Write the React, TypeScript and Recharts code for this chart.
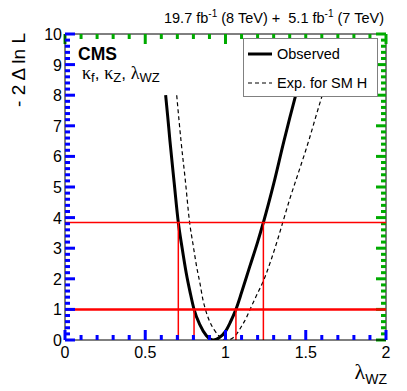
import React from 'react';
import { LineChart, Line, XAxis, YAxis, ReferenceLine, Legend } from 'recharts';

const obsX = [0.627, 0.640, 0.654, 0.680, 0.706, 0.730, 0.755, 0.780, 0.804, 0.840, 0.880, 0.924, 0.960, 1.000, 1.030, 1.065, 1.100, 1.150, 1.200, 1.236, 1.300, 1.364, 1.400, 1.445];
const obsY = [8.0, 7.3, 6.5, 5.15, 3.84, 3.0, 2.2, 1.55, 1.0, 0.5, 0.15, 0.0, 0.07, 0.28, 0.58, 1.0, 1.55, 2.38, 3.2, 3.84, 5.1, 6.5, 7.25, 8.15];

const expX = [0.696, 0.710, 0.723, 0.750, 0.775, 0.800, 0.820, 0.841, 0.860, 0.875, 0.900, 0.930, 0.960, 0.990, 1.010, 1.040, 1.070, 1.100, 1.130, 1.153, 1.190, 1.236, 1.283, 1.320, 1.360, 1.400, 1.450, 1.500, 1.522, 1.560, 1.600];
const expY = [8.0, 7.2, 6.5, 5.2, 3.9, 3.05, 2.4, 1.85, 1.3, 1.0, 0.62, 0.33, 0.13, 0.02, 0.0, 0.05, 0.2, 0.45, 0.73, 1.0, 1.42, 1.93, 2.6, 3.2, 3.9, 4.6, 5.4, 6.2, 6.57, 7.25, 7.95];

const seriesNames = ['Observed', 'Exp. for SM H'];
const xMajorTicks = [0, 0.5, 1, 1.5, 2];
const xTicks = [0, 0.1, 0.2, 0.3, 0.4, 0.5, 0.6, 0.7, 0.8, 0.9, 1, 1.1, 1.2, 1.3, 1.4, 1.5, 1.6, 1.7, 1.8, 1.9, 2];
const yMajorTicks = [0, 1, 2, 3, 4, 5, 6, 7, 8, 9, 10];
const yTicks = [
  0, 0.2, 0.4, 0.6, 0.8, 1, 1.2, 1.4, 1.6, 1.8, 2, 2.2, 2.4, 2.6, 2.8, 3, 3.2, 3.4, 3.6, 3.8, 4,
  4.2, 4.4, 4.6, 4.8, 5, 5.2, 5.4, 5.6, 5.8, 6, 6.2, 6.4, 6.6, 6.8, 7, 7.2, 7.4, 7.6, 7.8, 8,
  8.2, 8.4, 8.6, 8.8, 9, 9.2, 9.4, 9.6, 9.8, 10,
];
const thresholds = [1, 3.84];
const cl68 = [0.804, 1.065];
const cl95 = [0.706, 1.236];
const xMax = 2;
const yMax = 10;

const observed = obsX.map((x, i) => ({ x, y: obsY[i] }));
const expected = expX.map((x, i) => ({ x, y: expY[i] }));

const isMajor = (v: number, majors: number[]) => majors.some((m) => Math.abs(m - v) < 1e-6);

const FONT = '"Liberation Sans", Arial, Helvetica, sans-serif';
const SERIF = '"Liberation Serif", "Times New Roman", serif';

const W = 407;
const H = 391;
const M_TOP = 34;
const M_RIGHT = 21;
const Y_AXIS_W = 65;
const X_AXIS_H = 51;
const PLOT_W = W - M_RIGHT - Y_AXIS_W;
const PLOT_H = H - M_TOP - X_AXIS_H;
const MAJ_PX = 10;
const MIN_PX = 5;
const yPerPx = yMax / PLOT_H;
const xPerPx = xMax / PLOT_W;

const BottomTickLabel = (p: any) => {
  const { x, y, payload } = p;
  const v = payload.value;
  const len = isMajor(v, xMajorTicks) ? MAJ_PX : MIN_PX;
  return (
    <g>
      <line x1={x} x2={x} y1={y} y2={y - len} stroke="#0000ff" strokeWidth={3} />
      {isMajor(v, xMajorTicks) && (
        <text x={x} y={y + 18} textAnchor="middle" fontSize={16} fontFamily={FONT} fill="#000">
          {String(v)}
        </text>
      )}
    </g>
  );
};
const LeftTickLabel = (p: any) => {
  const { x, y, payload } = p;
  const v = payload.value;
  const len = isMajor(v, yMajorTicks) ? MAJ_PX : MIN_PX;
  return (
    <g>
      <line x1={x} x2={x + len} y1={y} y2={y} stroke="#0000ff" strokeWidth={3} />
      {isMajor(v, yMajorTicks) && (
        <text x={x - 3} y={y + 6} textAnchor="end" fontSize={16} fontFamily={FONT} fill="#000">
          {String(v)}
        </text>
      )}
    </g>
  );
};

const LegendBox = () => (
  <svg width={135} height={59} style={{ display: 'block' }}>
    <rect x={0.5} y={0.5} width={134} height={58} fill="#fff" stroke="#808080" strokeWidth={1} />
    <line x1={5} x2={29} y1={16} y2={16} stroke="#000" strokeWidth={3} />
    <text x={34} y={21} fontSize={14.5} fontFamily={FONT} fill="#000">{seriesNames[0]}</text>
    <line x1={5} x2={29} y1={45} y2={45} stroke="#000" strokeWidth={1.2} strokeDasharray="4 3" />
    <text x={34} y={50} fontSize={14.5} fontFamily={FONT} fill="#000">{seriesNames[1]}</text>
  </svg>
);

export default function App() {
  const tickMarks: React.ReactNode[] = [];
  xTicks.forEach((v) => {
    const dy = (isMajor(v, xMajorTicks) ? MAJ_PX : MIN_PX) * yPerPx;
    tickMarks.push(
      <ReferenceLine key={'xt' + v} segment={[{ x: v, y: yMax }, { x: v, y: yMax - dy }]} stroke="#00aa00" strokeWidth={3} />
    );
  });
  yTicks.forEach((v) => {
    const dx = (isMajor(v, yMajorTicks) ? MAJ_PX : MIN_PX) * xPerPx;
    tickMarks.push(
      <ReferenceLine key={'yr' + v} segment={[{ x: xMax, y: v }, { x: xMax - dx, y: v }]} stroke="#00aa00" strokeWidth={3} />
    );
  });

  return (
    <div style={{ position: 'absolute', left: 0, top: 0, width: W, height: H, background: '#fff' }}>
      <svg width={W} height={H} style={{ position: 'absolute', left: 0, top: 0, pointerEvents: 'none' }}>
        <text x={384} y={23} textAnchor="end" fontSize={14.5} fontFamily={FONT} fill="#000" style={{ whiteSpace: 'pre' }}>
          19.7 fb<tspan dy={-6} fontSize={10}>-1</tspan>
          <tspan dy={6}> (8 TeV) +  5.1 fb</tspan>
          <tspan dy={-6} fontSize={10}>-1</tspan>
          <tspan dy={6}> (7 TeV)</tspan>
        </text>
        <text x={78} y={60} fontSize={17.5} fontWeight="bold" fontFamily={FONT} fill="#000">CMS</text>
        <text x={82} y={79} fontSize={18} fontFamily={SERIF} fill="#000" style={{ whiteSpace: 'pre' }}>
          κ<tspan fontFamily={FONT} fontSize={13} dy={3}>f</tspan>
          <tspan fontFamily={FONT} fontSize={17} dy={-3}>, </tspan>κ
          <tspan fontFamily={FONT} fontSize={13} dy={3}>Z</tspan>
          <tspan fontFamily={FONT} fontSize={17} dy={-3}>, </tspan>λ
          <tspan fontFamily={FONT} fontSize={13} dy={3}>WZ</tspan>
        </text>
        <text transform="translate(25,33) rotate(-90)" textAnchor="end" fontSize={19} fontFamily={FONT} fill="#000" style={{ whiteSpace: 'pre' }}>
          - 2 Δ ln L
        </text>
        <text x={387} y={379} textAnchor="end" fontSize={22} fontFamily={SERIF} fill="#000">
          λ<tspan fontFamily={FONT} fontSize={14} dy={5}>WZ</tspan>
        </text>
      </svg>
      <div style={{ position: 'absolute', left: 0, top: 0, width: W, height: H }}>
        <LineChart width={W} height={H} margin={{ top: M_TOP, right: M_RIGHT, left: 0, bottom: 0 }}>
          <XAxis type="number" dataKey="x" domain={[0, xMax]} allowDataOverflow ticks={xTicks} interval={0} tickSize={0} tickMargin={0} tickLine={false} axisLine={{ stroke: '#000' }} tick={BottomTickLabel} height={X_AXIS_H} />
          <YAxis type="number" domain={[0, yMax]} allowDataOverflow ticks={yTicks} interval={0} tickSize={0} tickMargin={0} tickLine={false} axisLine={{ stroke: '#000' }} tick={LeftTickLabel} width={Y_AXIS_W} />
          <ReferenceLine y={yMax} stroke="#000" strokeWidth={1} />
          <ReferenceLine x={xMax} stroke="#000" strokeWidth={1} />
          {tickMarks}
          <Line data={observed} dataKey="y" name={seriesNames[0]} type="monotone" stroke="#000" strokeWidth={3} dot={false} isAnimationActive={false} />
          <Line data={expected} dataKey="y" name={seriesNames[1]} type="monotone" stroke="#000" strokeWidth={1.2} strokeDasharray="4 3" dot={false} isAnimationActive={false} />
          <ReferenceLine y={thresholds[1]} stroke="#ff0000" strokeWidth={1.5} />
          <ReferenceLine y={thresholds[0]} stroke="#ff0000" strokeWidth={2.5} />
          {cl95.map((v) => (
            <ReferenceLine key={'a' + v} segment={[{ x: v, y: 0 }, { x: v, y: thresholds[1] }]} stroke="#ff0000" strokeWidth={1.5} />
          ))}
          {cl68.map((v) => (
            <ReferenceLine key={'b' + v} segment={[{ x: v, y: 0 }, { x: v, y: thresholds[0] }]} stroke="#ff0000" strokeWidth={1.5} />
          ))}
          <Legend layout="horizontal" verticalAlign="middle" align="center" wrapperStyle={{ left: 243, top: 38, width: 135, height: 59 }} content={LegendBox} />
        </LineChart>
      </div>
    </div>
  );
}
